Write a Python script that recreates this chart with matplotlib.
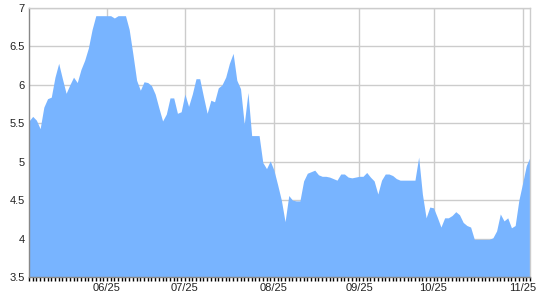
import matplotlib
matplotlib.use("Agg")
import matplotlib.pyplot as plt
import numpy as np
from matplotlib.ticker import FixedLocator, MultipleLocator, FormatStrFormatter

values = [
    5.53, 5.59, 5.54, 5.43, 5.71, 5.82, 5.84, 6.10, 6.28, 6.08,
    5.89, 6.00, 6.10, 6.03, 6.20, 6.32, 6.48, 6.72, 6.90, 6.90,
    6.90, 6.90, 6.90, 6.87, 6.90, 6.90, 6.90, 6.72, 6.40, 6.06,
    5.93, 6.04, 6.03, 5.99, 5.88, 5.70, 5.53, 5.62, 5.83, 5.83,
    5.63, 5.65, 5.88, 5.72, 5.88, 6.08, 6.08, 5.85, 5.63, 5.80,
    5.78, 5.96, 6.00, 6.10, 6.28, 6.41, 6.06, 5.95, 5.49, 5.90,
    5.34, 5.34, 5.34, 4.99, 4.91, 5.01, 4.89, 4.70, 4.50, 4.22,
    4.56, 4.50, 4.49, 4.49, 4.75, 4.85, 4.87, 4.89, 4.83, 4.81,
    4.81, 4.80, 4.78, 4.76, 4.84, 4.84, 4.80, 4.79, 4.80, 4.81,
    4.81, 4.86, 4.80, 4.75, 4.58, 4.76, 4.84, 4.84, 4.82, 4.78,
    4.76, 4.76, 4.76, 4.76, 4.76, 5.06, 4.58, 4.27, 4.41, 4.40,
    4.28, 4.15, 4.27, 4.27, 4.30, 4.35, 4.31, 4.21, 4.17, 4.15,
    3.99, 3.99, 3.99, 3.99, 3.99, 4.01, 4.10, 4.32, 4.23, 4.27,
    4.14, 4.17, 4.50, 4.72, 4.95, 5.06,
]
tick_index = [21, 42, 66, 89, 109, 133]
tick_labels = ["06/25", "07/25", "08/25", "09/25", "10/25", "11/25"]

x = np.arange(len(values))
y = np.array(values)

fig = plt.figure(figsize=(5.4, 3.0), dpi=100)
ax = fig.add_axes([29/540, 23/300, 501/540, 269/300])

ax.fill_between(x, 3.5, y, color="#78b4ff", linewidth=0, zorder=2)

ax.set_xlim(0, len(values) - 1)
ax.set_ylim(3.5, 7)

ax.yaxis.set_major_locator(MultipleLocator(0.5))
ax.yaxis.set_major_formatter(FormatStrFormatter("%g"))
ax.xaxis.set_major_locator(FixedLocator(tick_index))
ax.set_xticklabels(tick_labels)
ax.xaxis.set_minor_locator(FixedLocator(list(x)))

ax.grid(True, which="major", color="#cccccc", linewidth=1, zorder=1)
ax.set_axisbelow(True)

for lbl in ax.get_xticklabels() + ax.get_yticklabels():
    lbl.set_fontfamily("Liberation Sans")
    lbl.set_fontsize(8)
    lbl.set_color("#222222")

ax.tick_params(axis="y", length=0, pad=3)
ax.tick_params(axis="x", which="major", length=3, width=1, color="black", pad=1)
ax.tick_params(axis="x", which="minor", length=3, width=1, color="black")

for s in ["top", "right"]:
    ax.spines[s].set_color("#cccccc")
    ax.spines[s].set_linewidth(1)
ax.spines["left"].set_color("#888888")
ax.spines["bottom"].set_color("#888888")
ax.spines["left"].set_linewidth(1)
ax.spines["bottom"].set_linewidth(1)

fig.savefig("out.png", dpi=100)
